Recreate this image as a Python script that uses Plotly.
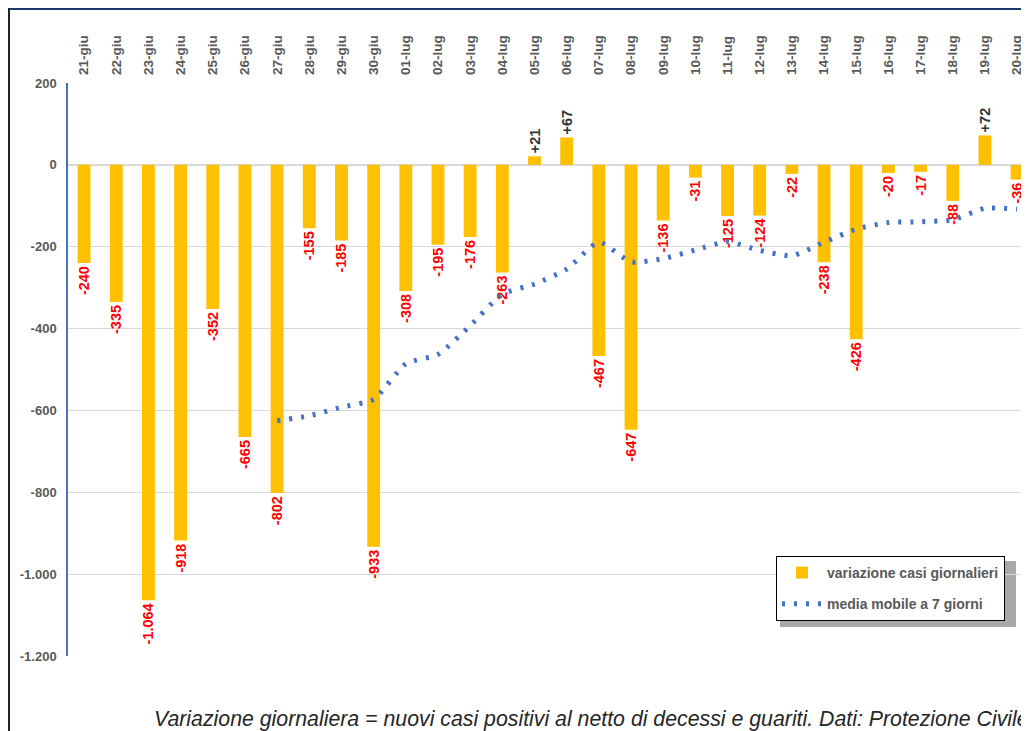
import plotly.graph_objects as go

# ---- data ----
dates = ["21-giu", "22-giu", "23-giu", "24-giu", "25-giu", "26-giu", "27-giu", "28-giu",
         "29-giu", "30-giu", "01-lug", "02-lug", "03-lug", "04-lug", "05-lug", "06-lug",
         "07-lug", "08-lug", "09-lug", "10-lug", "11-lug", "12-lug", "13-lug", "14-lug",
         "15-lug", "16-lug", "17-lug", "18-lug", "19-lug", "20-lug"]
daily_change = [-240, -335, -1064, -918, -352, -665, -802, -155, -185, -933,
                -308, -195, -176, -263, 21, 67, -467, -647, -136, -31,
                -125, -124, -22, -238, -426, -20, -17, -88, 72, -36]
moving_avg = [None, None, None, None, None, None, -625, -613, -592, -573,
              -486, -463, -393, -316, -291, -255, -189, -237, -229, -208,
              -188, -209, -222, -189, -157, -141, -139, -134, -106, -108]
y_ticks = [200, 0, -200, -400, -600, -800, -1000, -1200]
y_tick_text = ["200", "0", "-200", "-400", "-600", "-800", "-1.000", "-1.200"]
bar_name = "variazione casi giornalieri"
line_name = "media mobile a 7 giorni"
caption = "Variazione giornaliera = nuovi casi positivi al netto di decessi e guariti. Dati: Protezione Civile"


def fmt(v):
    s = f"{abs(v):,}".replace(",", ".")
    return ("+" if v > 0 else "-") + s


labels = [fmt(v) for v in daily_change]
label_colors = ["#333333" if v > 0 else "#FF0000" for v in daily_change]

FONT = "Liberation Sans, Arial, sans-serif"
GRAY = "#595959"

fig = go.Figure()
fig.add_trace(go.Bar(
    x=dates, y=daily_change, name=bar_name,
    marker=dict(color="#FFC000", line=dict(width=0)),
    text=labels, textposition="outside", textangle=-90,
    textfont=dict(family=FONT, size=14.5, color=label_colors, weight="bold"),
    constraintext="none", cliponaxis=False,
    legendgroup="a",
))
fig.add_trace(go.Scatter(
    x=dates, y=moving_avg, name=line_name, mode="lines",
    line=dict(color="#4472C4", width=5, dash="3px,9px", shape="spline", smoothing=0.6),
    legendgroup="b",
))

# page has an 8px body margin: figure coords = screen coords - 8
OFF = 8
W, H = 1029 - OFF, 731 - OFF
top_px, bot_px, left_px = 83 - OFF, 656 - OFF, 68 - OFF
ph = bot_px - top_px
pw = W - left_px


def py(p):
    return (bot_px - p) / ph


def px(p):
    return (p - left_px) / pw


shapes = [
    # title band (clipped at top)
    dict(type="rect", xref="paper", yref="paper", x0=px(0), x1=px(W + 5), y0=py(2), y1=py(-5),
         fillcolor="#1B3A6F", line=dict(width=0), layer="above"),
    # frame left border
    dict(type="line", xref="paper", yref="paper", x0=px(1), x1=px(1), y0=py(0), y1=py(H + 5),
         line=dict(color="#222222", width=2)),
    # legend shadow
    dict(type="rect", xref="paper", yref="paper", x0=px(772), x1=px(1008), y0=py(619), y1=py(553),
         fillcolor="#a8a8a8", line=dict(width=0), layer="below"),
]

fig.update_layout(
    width=W, height=H,
    margin=dict(l=left_px, r=0, t=top_px, b=H - bot_px, pad=0),
    paper_bgcolor="white", plot_bgcolor="rgba(0,0,0,0)",
    bargap=0.6,
    font=dict(family=FONT, color=GRAY),
    showlegend=True,
    legend=dict(
        x=px(768), y=py(548), xanchor="left", yanchor="top",
        bgcolor="white", bordercolor="#000000", borderwidth=1,
        font=dict(family=FONT, size=14, color=GRAY, weight="bold"),
        traceorder="grouped", tracegroupgap=10, itemwidth=40,
    ),
    xaxis=dict(
        type="category", range=[-0.5, 29.37], side="top", tickangle=-90,
        showgrid=False, zeroline=False, showline=False, ticks="",
        tickfont=dict(family=FONT, size=13.5, color=GRAY, weight="bold"),
        ticklabelstandoff=7,
    ),
    xaxis2=dict(
        overlaying="x", anchor="free", position=1200 / 1400, range=[-0.5, 29.37],
        tickmode="linear", tick0=0.5, dtick=1, ticks="outside", ticklen=4,
        tickcolor="#d0d0d0", tickwidth=1, showticklabels=False,
        showgrid=False, zeroline=False, showline=False,
    ),
    yaxis=dict(
        range=[-1200, 200], tickmode="array", tickvals=y_ticks, ticktext=y_tick_text,
        showgrid=True, gridcolor="#d9d9d9", gridwidth=1,
        zeroline=True, zerolinecolor="#d9d9d9", zerolinewidth=2,
        showline=True, linecolor="#4472C4", linewidth=1.5, ticks="",
        tickfont=dict(family=FONT, size=13, color=GRAY, weight="bold"),
        ticklabelstandoff=7,
    ),
    shapes=shapes,
    annotations=[dict(
        text=caption, xref="paper", yref="paper", x=px(W + 2), y=py(719 - OFF),
        xanchor="right", yanchor="middle", showarrow=False,
        font=dict(family=FONT, size=21.3, color="#262626", style="italic"),
    )],
)

fig.write_html("out.html")
